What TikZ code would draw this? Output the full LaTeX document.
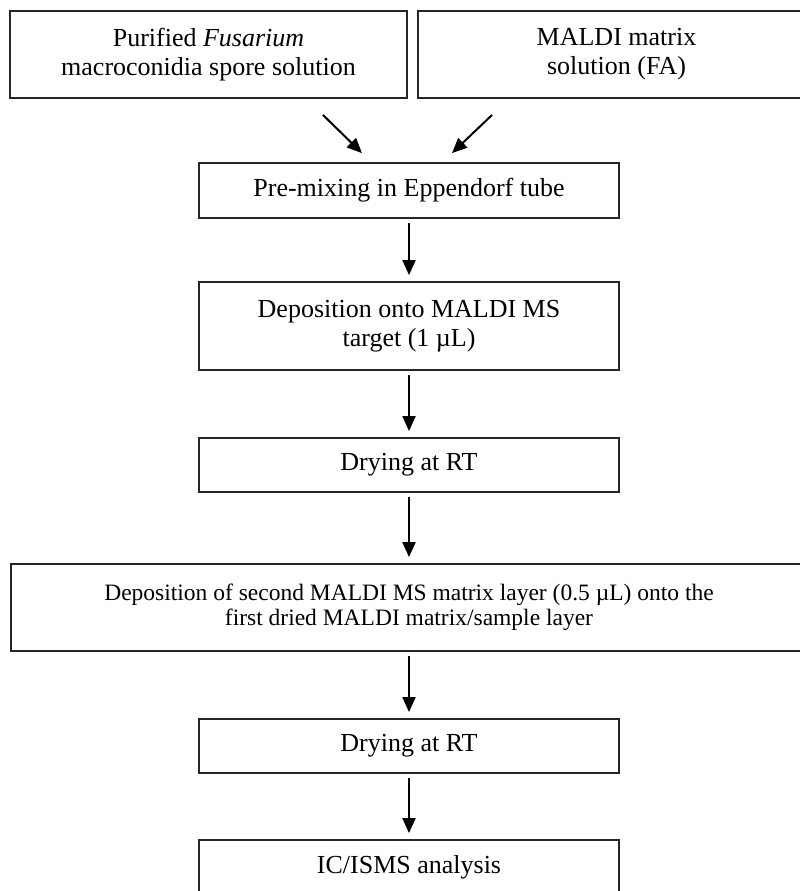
\documentclass[tikz,border=0pt]{standalone}
\usepackage{fontspec}
\setmainfont{Liberation Serif}
\usetikzlibrary{arrows.meta,calc}
\tikzset{
  box/.style={draw=black!85, line width=1.8pt, align=center, inner sep=0pt,
    font=\fontsize{26}{29}\selectfont, minimum width=420pt},
  widebox/.style={box, font=\fontsize{23.5}{25.5}\selectfont},
  flow/.style={draw=black, line width=2pt, -{Triangle[length=15pt,width=13pt]}},
  vflow/.style={flow, shorten <=4pt, shorten >=6pt}
}
\begin{document}
\begin{tikzpicture}[x=1pt,y=-1pt]
\useasboundingbox (0,0) rectangle (800,891);
\clip (0,0) rectangle (800,891);
\node[box, minimum width=397pt, minimum height=87pt] (src1) at (208.5,54.5)
  {Purified \textit{Fusarium}\\macroconidia spore solution};
\node[box, minimum width=397pt, minimum height=87pt] (src2) at (616.5,54.5)
  {MALDI matrix\\solution (FA)};
\node[box, minimum height=55pt] (mix) at (409,190.5) {Pre-mixing in Eppendorf tube};
\node[box, minimum height=88pt] (dep) at (409,326) {Deposition onto MALDI MS\\target (1 µL)};
\node[box, minimum height=54pt] (dry1) at (409,465) {Drying at RT};
\node[widebox, minimum width=796pt, minimum height=87pt] (dep2) at (409,607.5)
  {Deposition of second MALDI MS matrix layer (0.5 µL) onto the\\first dried MALDI matrix/sample layer};
\node[box, minimum height=54pt] (dry2) at (409,746) {Drying at RT};
\node[box, minimum height=55pt] (ana) at (409,867.5) {IC/ISMS analysis};

\coordinate (s1) at ($(src1.south east)+(-85,16)$);
\coordinate (e1) at ($(mix.north)+(-47,-9)$);
\coordinate (s2) at ($(src2.south west)+(75,16)$);
\coordinate (e2) at ($(mix.north)+(43,-9)$);
\draw[flow] (s1) -- (e1);
\draw[flow] (s2) -- (e2);
\draw[vflow] (mix) -- (dep);
\draw[vflow] (dep) -- (dry1);
\draw[vflow] (dry1) -- (dep2);
\draw[vflow] (dep2) -- (dry2);
\draw[vflow] (dry2) -- (ana);
\end{tikzpicture}
\end{document}
